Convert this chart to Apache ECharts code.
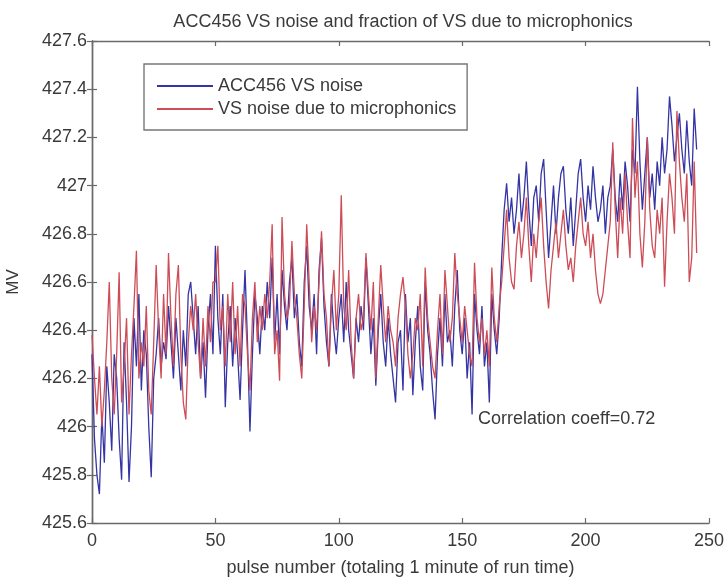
<!DOCTYPE html>
<html>
<head>
<meta charset="utf-8">
<script src="https://cdn.jsdelivr.net/npm/echarts@6/dist/echarts.min.js"></script>
<style>
  html, body { margin: 0; padding: 0; background: #ffffff; }
  #chart { width: 724px; height: 577px; }
</style>
</head>
<body>
<div id="chart"></div>
<script>
// Cavity voltage per pulse (MV), pulses 0..245
const accVsNoise = [
  426.30, 425.95, 425.80, 425.72, 426.05, 425.85, 426.25, 426.10, 425.90, 426.30,
  426.20, 425.95, 425.78, 426.35, 426.10, 425.77, 426.00, 426.45, 426.25, 426.55,
  426.15, 426.40, 426.30, 426.00, 425.79, 426.20, 426.30, 426.45, 426.25, 426.35,
  426.28, 426.50, 426.35, 426.20, 426.45, 426.30, 426.15, 426.40, 426.25, 426.55,
  426.60, 426.45, 426.30, 426.50, 426.20, 426.35, 426.12, 426.40, 426.55, 426.30,
  426.75, 426.45, 426.30, 426.55, 426.08, 426.35, 426.50, 426.25, 426.45, 426.30,
  426.11, 426.40, 426.65, 426.35, 425.98, 426.30, 426.55, 426.45, 426.30, 426.50,
  426.40, 426.60, 426.45, 426.70, 426.35, 426.55, 426.30, 426.65, 426.50, 426.40,
  426.60, 426.70, 426.45, 426.55, 426.35, 426.25, 426.60, 426.75, 426.50, 426.40,
  426.55, 426.30, 426.65, 426.78, 426.50, 426.35, 426.25, 426.55, 426.40, 426.30,
  426.45, 426.55, 426.35, 426.60, 426.40, 426.30, 426.20, 426.45, 426.35, 426.50,
  426.40, 426.70, 426.50, 426.30, 426.45, 426.17, 426.40, 426.55, 426.35, 426.25,
  426.45, 426.30, 426.20, 426.10, 426.35, 426.40, 426.15, 426.55, 426.35, 426.45,
  426.13, 426.35, 426.50, 426.25, 426.15, 426.60, 426.40, 426.30, 426.15, 426.03,
  426.30, 426.45, 426.25, 426.55, 426.35, 426.40, 426.25, 426.50, 426.65, 426.40,
  426.30, 426.45, 426.20, 426.35, 426.05, 426.55, 426.40, 426.30, 426.50, 426.25,
  426.35, 426.10, 426.55, 426.40, 426.30, 426.45, 426.70, 426.90, 427.01, 426.85,
  426.95, 426.80, 426.90, 427.05, 426.85, 426.95, 427.10, 426.90, 426.75, 426.95,
  427.00, 426.85, 427.05, 427.11, 426.90, 426.70, 426.85, 427.00, 426.80, 426.95,
  427.05, 427.08, 426.90, 426.80, 426.95, 426.75, 426.90, 427.05, 427.11, 426.95,
  426.85, 427.00, 426.90, 427.08, 426.95, 426.85, 426.90, 427.00, 426.80, 426.95,
  427.00, 427.15, 426.95, 426.85, 427.05, 426.90, 427.10, 427.00, 426.85, 427.15,
  427.05, 427.41, 427.10, 426.90, 427.05, 427.20, 426.95, 427.05, 426.90, 427.10,
  427.00, 427.20, 427.05, 427.15, 427.37, 427.25, 427.10, 427.20, 427.30, 427.15,
  427.05, 427.27, 427.10, 427.00, 427.32, 427.15
];

const microphonicsNoise = [
  426.38, 426.20, 426.05, 426.25, 426.00, 426.15, 426.35, 426.60, 426.20, 426.05,
  426.30, 426.64, 426.10, 426.25, 426.45, 426.05, 426.30, 426.50, 426.73, 426.20,
  426.35, 426.25, 426.50, 426.15, 426.05, 426.35, 426.67, 426.40, 426.20, 426.55,
  426.30, 426.72, 426.45, 426.25, 426.55, 426.67, 426.30, 426.10, 426.03, 426.35,
  426.50, 426.40, 426.55, 426.35, 426.20, 426.45, 426.25, 426.50, 426.35, 426.60,
  426.60, 426.75, 426.40, 426.50, 426.25, 426.55, 426.35, 426.60, 426.30, 426.50,
  426.25, 426.55, 426.50, 426.30, 426.15, 426.45, 426.60, 426.35, 426.50, 426.40,
  426.55, 426.45, 426.60, 426.84, 426.30, 426.40, 426.19, 426.87, 426.55, 426.45,
  426.50, 426.77, 426.55, 426.45, 426.30, 426.20, 426.50, 426.84, 426.60, 426.35,
  426.50, 426.40, 426.60, 426.81, 426.55, 426.45, 426.25, 426.50, 426.65, 426.40,
  426.55, 426.96, 426.50, 426.40, 426.65, 426.35, 426.20, 426.45, 426.55, 426.40,
  426.45, 426.72, 426.55, 426.40, 426.60, 426.20, 426.45, 426.67, 426.50, 426.35,
  426.50, 426.40, 426.35, 426.25, 426.45, 426.55, 426.62, 426.50, 426.30, 426.20,
  426.30, 426.45, 426.40, 426.55, 426.25, 426.66, 426.45, 426.35, 426.25, 426.20,
  426.40, 426.55, 426.30, 426.65, 426.50, 426.35, 426.45, 426.72, 426.55, 426.45,
  426.35, 426.50, 426.40, 426.30, 426.25, 426.68, 426.45, 426.35, 426.45, 426.30,
  426.40, 426.25, 426.66, 426.45, 426.35, 426.50, 426.60, 426.75, 426.90, 426.70,
  426.60, 426.57, 426.75, 426.85, 426.70, 426.80, 426.95, 426.75, 426.60, 426.80,
  426.70, 426.85, 426.95, 426.75, 426.60, 426.49, 426.65, 426.75, 426.85, 426.70,
  426.80, 426.90, 426.75, 426.65, 426.70, 426.60, 426.75, 426.85, 426.95, 426.80,
  426.75, 426.85, 426.70, 426.80, 426.65, 426.55, 426.51, 426.55, 426.65, 426.75,
  426.85, 427.18, 426.90, 426.70, 426.95, 426.80, 427.05, 426.85, 426.70, 427.28,
  426.95, 427.10, 426.80, 426.66, 426.85, 427.20, 426.90, 426.75, 426.70, 426.90,
  426.80, 426.95, 426.58, 426.85, 427.05, 426.95, 426.80, 427.31, 427.10, 426.95,
  426.85, 427.05, 426.60, 426.70, 427.10, 426.72
];

const seriesNames = ['ACC456 VS noise', 'VS noise due to microphonics'];
const chartTitle = 'ACC456 VS noise and fraction of VS due to microphonics';
const xAxisName = 'pulse number (totaling 1 minute of run time)';
const yAxisName = 'MV';
const annotation = 'Correlation coeff=0.72';

const FONT = '"Liberation Sans", Arial, sans-serif';
const AXIS_COLOR = '#6a6a6a';
const TEXT_COLOR = '#3a3a3a';

const toPairs = arr => arr.map((v, i) => [i, v]);

const chart = echarts.init(document.getElementById('chart'), null, { renderer: 'canvas' });

const axisLineStyle = { lineStyle: { color: AXIS_COLOR, width: 1.4 } };
const tickStyle = { show: true, inside: true, length: 5, lineStyle: { color: AXIS_COLOR, width: 1.2 } };

chart.setOption({
  animation: false,
  backgroundColor: '#ffffff',
  title: {
    text: chartTitle,
    left: 398,
    top: 8,
    textAlign: 'center',
    textStyle: { fontFamily: FONT, fontSize: 18, fontWeight: 'normal', color: TEXT_COLOR }
  },
  legend: {
    orient: 'vertical',
    left: 144,
    top: 64,
    padding: [13, 11, 12, 13],
    itemGap: 5,
    itemWidth: 56,
    itemHeight: 2,
    icon: 'rect',
    borderColor: '#777777',
    borderWidth: 1.4,
    backgroundColor: '#ffffff',
    textStyle: { fontFamily: FONT, fontSize: 18, color: TEXT_COLOR, lineHeight: 18 },
    data: seriesNames
  },
  grid: { left: 92, right: 15, top: 41, bottom: 54, containLabel: false, outerBoundsMode: 'none' },
  xAxis: [
    {
      type: 'value', min: 0, max: 250, interval: 50,
      name: xAxisName, nameLocation: 'middle', nameGap: 36,
      nameTextStyle: { fontFamily: FONT, fontSize: 18, color: TEXT_COLOR },
      axisLine: axisLineStyle, axisTick: tickStyle,
      axisLabel: { margin: 9, fontFamily: FONT, fontSize: 18, color: TEXT_COLOR },
      splitLine: { show: false }
    },
    {
      type: 'value', min: 0, max: 250, interval: 50, position: 'top',
      axisLine: axisLineStyle, axisTick: tickStyle,
      axisLabel: { show: false }, splitLine: { show: false }
    }
  ],
  yAxis: [
    {
      type: 'value', min: 425.6, max: 427.6, interval: 0.2,
      name: yAxisName, nameLocation: 'middle', nameGap: 70, nameRotate: 90,
      nameTextStyle: { fontFamily: FONT, fontSize: 17, color: TEXT_COLOR },
      axisLine: axisLineStyle, axisTick: tickStyle,
      axisLabel: {
        margin: 5, fontFamily: FONT, fontSize: 18, color: TEXT_COLOR,
        formatter: v => String(parseFloat(v.toFixed(1)))
      },
      splitLine: { show: false }
    },
    {
      type: 'value', min: 425.6, max: 427.6, interval: 0.2, position: 'right',
      axisLine: axisLineStyle, axisTick: tickStyle,
      axisLabel: { show: false }, splitLine: { show: false }
    }
  ],
  graphic: [
    {
      type: 'text',
      left: 478,
      top: 410,
      style: { text: annotation, font: '18px ' + FONT, fill: TEXT_COLOR }
    }
  ],
  series: [
    {
      name: seriesNames[0],
      type: 'line',
      data: toPairs(accVsNoise),
      symbol: 'none',
      lineStyle: { color: '#3434a4', width: 1.3 },
      itemStyle: { color: '#3434a4' },
      z: 2
    },
    {
      name: seriesNames[1],
      type: 'line',
      data: toPairs(microphonicsNoise),
      symbol: 'none',
      lineStyle: { color: '#cd4c56', width: 1.3 },
      itemStyle: { color: '#cd4c56' },
      z: 3
    }
  ]
});
</script>
</body>
</html>
